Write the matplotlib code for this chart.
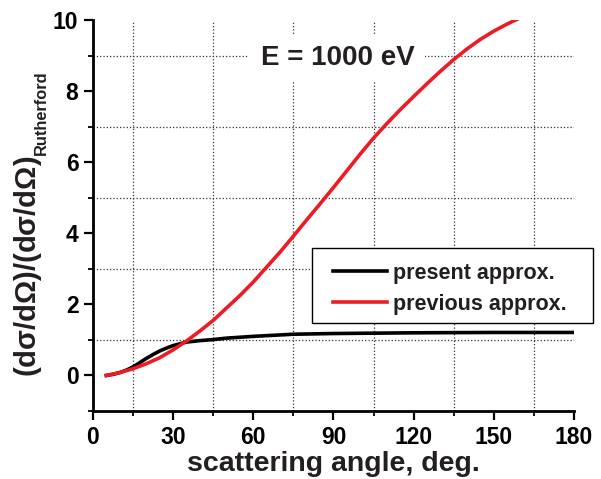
import numpy as np
import matplotlib.pyplot as plt
from matplotlib.patches import Rectangle
from matplotlib.ticker import MultipleLocator

plt.rcParams['font.family'] = 'Liberation Sans'
plt.rcParams['font.weight'] = 'bold'
plt.rcParams['mathtext.fontset'] = 'custom'
plt.rcParams['mathtext.rm'] = 'Liberation Sans'
plt.rcParams['mathtext.it'] = 'Liberation Sans'
plt.rcParams['mathtext.bf'] = 'Liberation Sans:bold'

INK = '#231f20'
W, H = 601, 479

# cross-section ratio vs scattering angle at E = 1000 eV
angle_present = [5, 7.5, 10, 12.5, 15, 17.5, 20, 22.5, 25, 27.5, 30, 35, 40, 45, 50, 60, 75,
                 90, 120, 150, 180]
ratio_present = [0.0, 0.03, 0.08, 0.15, 0.24, 0.36, 0.48, 0.59, 0.69, 0.77, 0.84, 0.94, 0.98,
                 1.01, 1.05, 1.1, 1.16, 1.18, 1.2, 1.21, 1.21]

angle_previous = [5, 10, 15, 20, 25, 30, 35, 40, 45, 50, 55, 60, 65, 70, 75, 80, 85, 90, 95,
                  100, 105, 110, 115, 120, 125, 130, 135, 140, 145, 150, 155, 160]
ratio_previous = [0.0, 0.08, 0.19, 0.33, 0.5, 0.72, 0.97, 1.25, 1.55, 1.9, 2.25, 2.63, 3.05,
                  3.47, 3.92, 4.38, 4.83, 5.29, 5.76, 6.23, 6.68, 7.09, 7.48, 7.85, 8.21, 8.56,
                  8.89, 9.19, 9.46, 9.69, 9.89, 10.07]

fig = plt.figure(figsize=(W / 100, H / 100), dpi=100)
ax = fig.add_axes([0.1547, 0.142, 0.8003, 0.816])

ax.plot(angle_present, ratio_present, color='black', lw=2.6, label='present approx.',
        zorder=3, solid_joinstyle='round')
ax.plot(angle_previous, ratio_previous, color='#ed1c24', lw=2.6, label='previous approx.',
        zorder=3, solid_joinstyle='round')

ax.set_xlim(0, 180)
ax.set_ylim(-1, 10)
ax.xaxis.set_major_locator(MultipleLocator(30))
ax.xaxis.set_minor_locator(MultipleLocator(15))
ax.yaxis.set_minor_locator(MultipleLocator(1))
ax.set_yticks([0, 2, 4, 6, 8, 10])

ax.grid(which='minor', ls=':', color='#333333', lw=0.9)
ax.grid(which='major', visible=False)
ax.set_axisbelow(True)

for side in ('top', 'right'):
    ax.spines[side].set_visible(False)
for side in ('left', 'bottom'):
    ax.spines[side].set_linewidth(2)
ax.tick_params(which='major', direction='out', length=6.5, width=1.6, labelsize=16.5,
               pad=4, labelcolor='black')
ax.tick_params(which='minor', direction='out', length=3.5, width=1.3)

ax.set_xlabel('scattering angle, deg.', fontsize=20.5, fontweight='bold', color=INK,
              labelpad=2)

# y label: main ratio plus a smaller "Rutherford" subscript
fig.text(28 / W, 1 - 266 / H,
         r'$\mathbf{(d}\sigma\mathbf{/d}\Omega\mathbf{)/(d}\sigma\mathbf{/d}\Omega\mathbf{)}$',
         fontsize=21, rotation=90, ha='center', va='center', color=INK)
fig.text(41 / W, 1 - 113 / H, 'Rutherford', fontsize=11.8, fontweight='bold',
         rotation=90, ha='center', va='center', color=INK)

ax.text(91.5, 8.93, 'E = 1000 eV', fontsize=20, fontweight='bold', color=INK,
        ha='center', va='center', zorder=2,
        bbox=dict(facecolor='white', edgecolor='none', pad=8))

# legend box drawn separately so it can be wider than its entries
fig.patches.append(Rectangle((312 / W, 1 - 323 / H), 281 / W, 75 / H,
                             transform=fig.transFigure, facecolor='white',
                             edgecolor='black', lw=1, zorder=4))
leg = fig.legend(loc='upper left', bbox_to_anchor=(333 / W, 1 - 263 / H),
                 frameon=False, fontsize=15.5, handlelength=2.5, handletextpad=0.3,
                 borderaxespad=0, borderpad=0, labelspacing=0.45)
leg.set_zorder(5)
for t in leg.get_texts():
    t.set_color(INK)

fig.savefig('out.png', dpi=100)
